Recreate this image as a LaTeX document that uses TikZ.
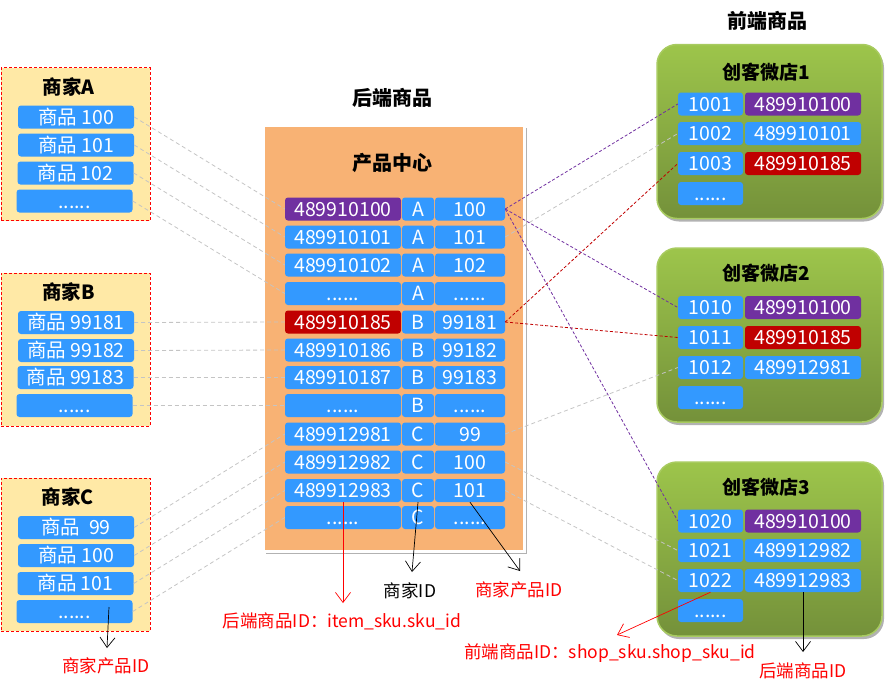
\documentclass[tikz,border=0pt]{standalone}
\usepackage{fontspec}
\setmainfont{Noto Sans CJK SC}
\usetikzlibrary{arrows.meta,shadows}
\definecolor{cblue}{HTML}{3399FF}
\definecolor{cpurple}{HTML}{7030A0}
\definecolor{cred}{HTML}{C00000}
\definecolor{corange}{HTML}{F8B274}
\definecolor{cyellow}{HTML}{FFE9A6}
\definecolor{cgtop}{HTML}{9DC54B}
\definecolor{cgbot}{HTML}{74913A}
\definecolor{cgline}{HTML}{A8CB60}
\definecolor{clink}{HTML}{C4C4C4}
\definecolor{lred}{HTML}{FF0000}
\newcommand\sixdots{......}
\begin{document}
\begin{tikzpicture}[x=1pt,y=-1pt,
  cell/.style={fill=cblue, rounded corners=3pt, text=white, inner sep=0pt,
    minimum height=23pt, text height=14pt, text depth=0pt,
    font=\fontsize{19.5}{21}\selectfont},
  wm/.style={minimum width=116pt},
  wa/.style={minimum width=116pt},
  wb/.style={minimum width=32pt},
  wc/.style={minimum width=70pt},
  wid/.style={minimum width=65pt},
  merchant/.style={draw=lred, fill=cyellow, dashed, dash pattern=on 3pt off 2pt,
    line width=0.8pt, minimum width=149pt, minimum height=153pt},
  store/.style={draw=cgline, line width=1.5pt, top color=cgtop, bottom color=cgbot,
    rounded corners=20pt, minimum width=225pt, minimum height=174pt,
    drop shadow={shadow xshift=2pt, shadow yshift=-3pt, fill=black, opacity=0.3}},
  panel/.style={fill=corange, draw=white, line width=3pt, minimum width=261pt,
    minimum height=426pt,
    drop shadow={shadow xshift=2pt, shadow yshift=-2pt, fill=black, opacity=0.3}},
  ttl/.style={font=\bfseries\fontsize{19.5}{21}\selectfont, inner sep=0pt},
  sttl/.style={font=\bfseries\fontsize{19}{21}\selectfont, inner sep=0pt},
  bigttl/.style={font=\bfseries\fontsize{20}{22}\selectfont, inner sep=0pt},
  lbl/.style={font=\fontsize{17.5}{19}\selectfont, inner sep=0pt, text=lred},
  link/.style={draw=clink, dash pattern=on 4pt off 3pt, line width=0.8pt},
  plink/.style={draw=cpurple, dash pattern=on 3pt off 2pt, line width=0.8pt},
  rlink/.style={draw=cred, dash pattern=on 3pt off 2pt, line width=0.8pt},
  arr/.style={-{Straight Barb[length=10pt,width=15pt]}, line width=0.7pt}
]
\useasboundingbox (0,0) rectangle (890,691);

% merchants
\node[merchant] (mA) at (75.5,144) {};
\node[merchant] (mB) at (75.5,349.5) {};
\node[merchant] (mC) at (75.5,554.5) {};
\node[ttl] (tA) at (68.5,87) {商家A};
\node[ttl] (tB) at (68.5,292) {商家B};
\node[ttl] (tC) at (68,497) {商家C};

\node[cell,wm] (a1) at (76,117) {商品 100};
\node[cell,wm] (a2) at (76,145) {商品 101};
\node[cell,wm] (a3) at (75.5,173) {商品 102};
\node[cell,wm] (a4) at (74.5,201) {\sixdots};
\node[cell,wm] (b1) at (76,322.5) {商品 99181};
\node[cell,wm] (b2) at (76,350.5) {商品 99182};
\node[cell,wm] (b3) at (75.5,377.5) {商品 99183};
\node[cell,wm] (b4) at (74.5,405.5) {\sixdots};
\node[cell,wm] (c1) at (76,527.5) {商品~~99};
\node[cell,wm] (c2) at (76,555.5) {商品 100};
\node[cell,wm] (c3) at (75.5,583.5) {商品 101};
\node[cell,wm] (c4) at (74.5,611.5) {\sixdots};

% center panel
\node[bigttl] (tback) at (392,98) {后端商品};
\node[panel] (pan) at (394,338.5) {};
\node[bigttl] (tcenter) at (392,163) {产品中心};
\foreach \i/\y/\a/\b/\c/\col in {
  1/209/489910100/A/100/cpurple,
  2/237/489910101/A/101/cblue,
  3/265/489910102/A/102/cblue,
  4/293.5/\sixdots/A/\sixdots/cblue,
  5/322/489910185/B/99181/cred,
  6/350/489910186/B/99182/cblue,
  7/377.5/489910187/B/99183/cblue,
  8/405.5/\sixdots/B/\sixdots/cblue,
  9/434/489912981/C/99/cblue,
  10/462/489912982/C/100/cblue,
  11/490.5/489912983/C/101/cblue,
  12/517.5/\sixdots/C/\sixdots/cblue}{
  \node[cell,wa,fill=\col] (r\i-a) at (343,\y) {\a};
  \node[cell,wb] (r\i-b) at (418,\y) {\b};
  \node[cell,wc] (r\i-c) at (470,\y) {\c};
}

% stores
\node[bigttl] (tfront) at (767,21) {前端商品};
\node[store] (st1) at (769.5,131.5) {};
\node[store] (st2) at (769.5,335) {};
\node[store] (st3) at (769.5,549) {};
\node[sttl] (ts1) at (766,72) {创客微店1};
\node[sttl] (ts2) at (766,273) {创客微店2};
\node[sttl] (ts3) at (766,487) {创客微店3};
\foreach \s/\r/\y/\id/\v/\col in {
  1/1/104/1001/489910100/cpurple,
  1/2/133.5/1002/489910101/cblue,
  1/3/163.5/1003/489910185/cred,
  2/1/307.5/1010/489910100/cpurple,
  2/2/337.5/1011/489910185/cred,
  2/3/367.5/1012/489912981/cblue,
  3/1/521/1020/489910100/cpurple,
  3/2/550.5/1021/489912982/cblue,
  3/3/580.5/1022/489912983/cblue}{
  \node[cell,wid] (s\s-\r) at (710.5,\y) {\id};
  \node[cell,wa,fill=\col] (s\s-\r v) at (803,\y) {\v};
}
\node[cell,wid] (s1-4) at (710.5,193.5) {\sixdots};
\node[cell,wid] (s2-4) at (710.5,397.5) {\sixdots};
\node[cell,wid] (s3-4) at (710.5,610.5) {\sixdots};

% left links
\draw[link] (a1.east) -- (r1-a.west);
\draw[link] (a2.east) -- (r2-a.west);
\draw[link] (a3.east) -- (r3-a.west);
\draw[link] (a4.east) -- (r4-a.west);
\draw[link] (b1.east) -- (r5-a.west);
\draw[link] (b2.east) -- (r6-a.west);
\draw[link] (b3.east) -- (r7-a.west);
\draw[link] (b4.east) -- (r8-a.west);
\draw[link] (c1.east) -- (r9-a.west);
\draw[link] (c2.east) -- (r10-a.west);
\draw[link] (c3.east) -- (r11-a.west);
\draw[link] (c4.east) -- (r12-a.west);

% right links
\draw[plink] (r1-c.east) -- (s1-1.west);
\draw[link]  (r2-c.east) -- (s1-2.west);
\draw[rlink] (r5-c.east) -- (s1-3.west);
\draw[plink] (r1-c.east) -- (s2-1.west);
\draw[rlink] (r5-c.east) -- (s2-2.west);
\draw[link]  (r9-c.east) -- (s2-3.west);
\draw[plink] (r1-c.east) -- (s3-1.west);
\draw[link]  (r10-c.east) -- (s3-2.west);
\draw[link]  (r11-c.east) -- (s3-3.west);

% annotation arrows
\coordinate (e1) at (412,572);
\coordinate (e2) at (520,571);
\coordinate (e3) at (343,603);
\coordinate (m0) at (109,607);
\coordinate (e4) at (107,648);
\coordinate (e5) at (617,635);
\coordinate (e6) at (803,652);
\draw[arr] (r11-b.south) -- (e1);
\draw[arr] (r11-c.south) -- (e2);
\draw[arr,draw=lred] (r11-a.south) -- (e3);
\draw[arr] (m0) -- (e4);
\draw[arr,draw=lred] (s3-3.south) -- (e5);
\draw[arr] (s3-3v.south) -- (e6);

\node[lbl,text=black] (l1) at (410,591) {商家ID};
\node[lbl] (l2) at (519,590) {商家产品ID};
\node[lbl] (l3) at (342,621) {后端商品ID：item\_sku.sku\_id};
\node[lbl] (l4) at (106,666) {商家产品ID};
\node[lbl] (l5) at (610,653) {前端商品ID：shop\_sku.shop\_sku\_id};
\node[lbl] (l6) at (803,671) {后端商品ID};
\end{tikzpicture}
\end{document}
